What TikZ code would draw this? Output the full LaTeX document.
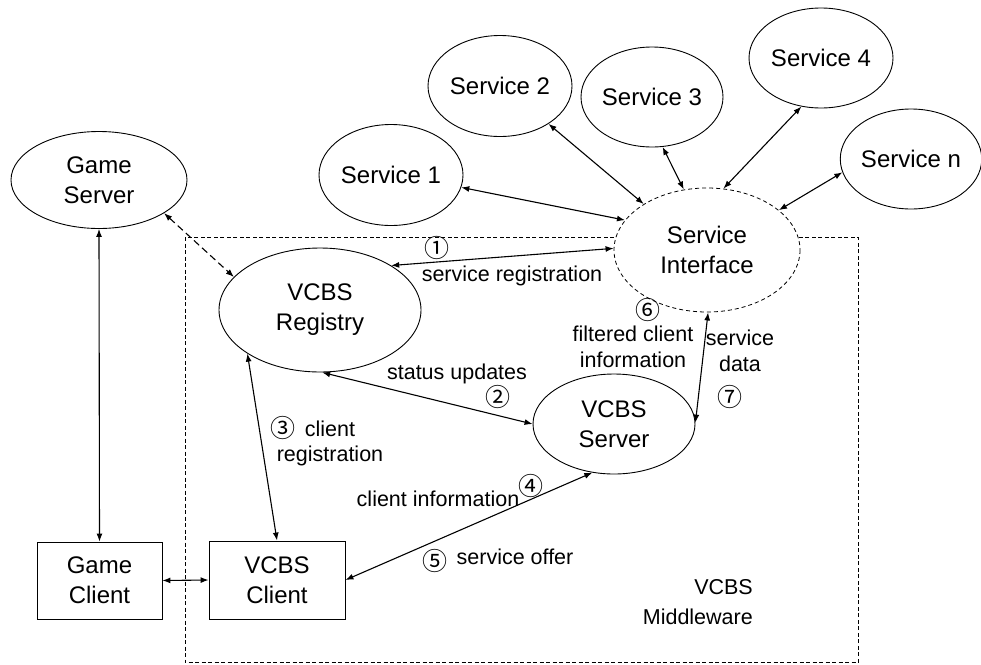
\documentclass[tikz,border=0pt]{standalone}
\usepackage{fontspec}
\setmainfont{Liberation Sans}
\newfontfamily\circfont{Noto Sans CJK SC}
\usetikzlibrary{shapes.geometric,arrows.meta}

\begin{document}
\begin{tikzpicture}[x=1pt,y=-1pt,
  every node/.style={font=\fontsize{24}{30}\selectfont, align=center},
  oval/.style={ellipse, draw, line width=0.9pt, fill=white, inner sep=0pt},
  box/.style={rectangle, draw, line width=0.9pt, fill=white, inner sep=0pt},
  lbl/.style={font=\fontsize{21.5}{26.5}\selectfont, inner sep=0pt},
  num/.style={font=\circfont\fontsize{25}{25}\selectfont, inner sep=0pt},
  link/.style={line width=1.1pt, {Latex[length=8pt,width=6pt]}-{Latex[length=8pt,width=6pt]}},
]
\useasboundingbox (0,0) rectangle (981,664);

% middleware boundary
\draw[line width=0.8pt, dash pattern=on 4pt off 2.5pt] (185,237) rectangle (858,662.5);

% nodes
\node[oval, minimum width=176, minimum height=97] (gs) at (99,180) {Game\\Server};
\node[oval, minimum width=144, minimum height=101] (s1) at (391,175) {Service 1};
\node[oval, minimum width=144, minimum height=101] (s2) at (500,86) {Service 2};
\node[oval, minimum width=142, minimum height=100] (s3) at (652,97) {Service 3};
\node[oval, minimum width=144, minimum height=100] (s4) at (821,58) {Service 4};
\node[oval, minimum width=139, minimum height=100] (sn) at (911,159) {Service n};
\node[oval, draw=none, minimum width=186, minimum height=124] (si) at (707,250) {Service\\Interface};
\draw[line width=0.8pt, dash pattern=on 4pt off 3pt] (si.center) ellipse [x radius=93, y radius=62];
\node[oval, minimum width=202, minimum height=124] (reg) at (320,310) {VCBS\\Registry};
\node[oval, minimum width=162, minimum height=100] (srv) at (614,424) {VCBS\\Server};
\node[box, minimum width=125, minimum height=77] (gc) at (99.5,580.5) {Game\\Client};
\node[box, minimum width=136, minimum height=78] (vc) at (277,580) {VCBS\\Client};

% connectors
\draw[link] (gs.south) -- (gc.north);
\draw[link, dash pattern=on 7pt off 4pt] (gs.-27) -- (reg.159);
\draw[link] (gc.east) -- (vc.west);
\draw[link] (reg.-149) -- (vc.north);
\draw[link] (reg.32) -- (si.179);
\draw[link] (reg.-88) -- (srv.180);
\draw[link] (srv.1) -- (si.-89);
\draw[link] (vc.east) -- (srv.-114);
\draw[link] (s1.-10) -- (si.160);
\draw[link] (s2.-38) -- (si.144);
\draw[link] (s3.-78) -- (si.111);
\draw[link] (s4.-112) -- (si.75);
\draw[link] (sn.-169) -- (si.29);

% labels
\node[num] (n1) at (437,248) {①};
\node[lbl] (l1) at (512,276) {service registration};
\node[lbl] (l2) at (457,374) {status updates};
\node[num] (n2) at (498,397) {②};
\node[num] (n3) at (283,428) {③};
\node[lbl] (l3a) at (330,429) {client};
\node[lbl] (l3b) at (330,456) {registration};
\node[num] (n6) at (648,310) {⑥};
\node[lbl] (l6) at (633,347) {filtered client\\information};
\node[lbl] (l7) at (740,351) {service\\data};
\node[num] (n7) at (730,397) {⑦};
\node[lbl] (l4) at (438,499) {client information};
\node[num] (n4) at (531,486) {④};
\node[num] (n5) at (435,561) {⑤};
\node[lbl] (l5) at (515,557) {service offer};
\node[lbl, align=right, anchor=east, font=\fontsize{21.5}{30}\selectfont] (mw) at (753,602) {VCBS\\Middleware};
\end{tikzpicture}
\end{document}
